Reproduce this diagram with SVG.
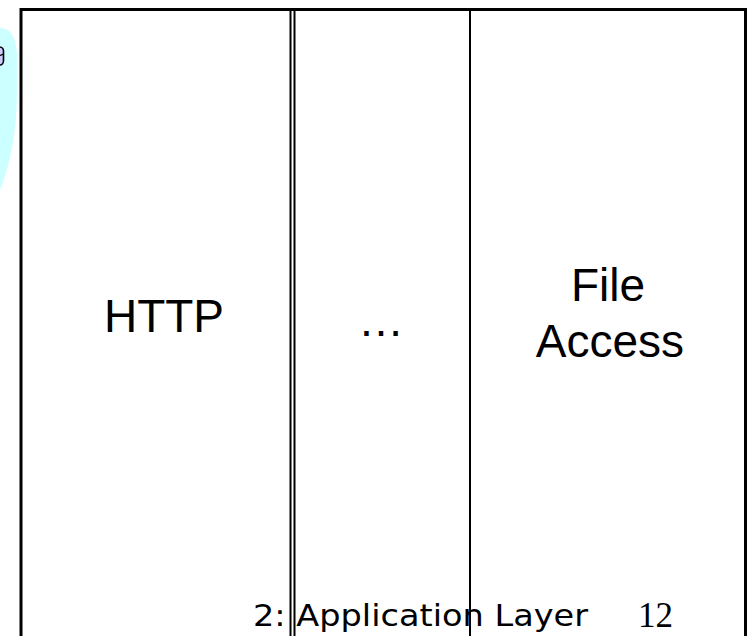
<svg xmlns="http://www.w3.org/2000/svg" width="755" height="636" viewBox="0 0 755 636">
<style>
.lbl{font-family:"Liberation Sans",Arial,sans-serif;font-size:46px;fill:#000;text-anchor:middle}
.sep{stroke:#000;stroke-width:2;fill:none}
.frame{stroke:#000;stroke-width:3;fill:none}
</style>
<rect width="755" height="636" fill="#fff"/>
<g id="bubble">
<path d="M0,28 Q14,27 17,52 L17,95 Q16,150 0,190 Z" fill="#ccffff"/>
<rect x="-6" y="47" width="9.5" height="18" rx="4" fill="#ccccff" stroke="#000" stroke-width="1.6"/>
<path d="M-6,54 Q-1,57 3.5,54" fill="none" stroke="#000" stroke-width="1.2"/>
</g>
<g id="frame">
<path class="frame" d="M21,660 L21,9.5 L745.5,9.5 L745.5,660"/>
</g>
<g id="separators">
<line class="sep" x1="290.5" y1="9" x2="290.5" y2="636"/>
<line class="sep" x1="294.5" y1="9" x2="294.5" y2="636"/>
<line class="sep" x1="470" y1="9" x2="470" y2="636"/>
</g>
<g id="http">
<text class="lbl" x="164" y="332" font-size="47">HTTP</text>
</g>
<g id="ellipsis">
<text class="lbl" x="381" y="336">…</text>
</g>
<g id="file-access">
<text class="lbl" x="608" y="301">File</text>
<text class="lbl" x="610" y="357">Access</text>
</g>
<g id="footer">
<text x="253" y="626" font-family="'Comic Sans MS','DejaVu Sans',sans-serif" font-size="31" textLength="335" lengthAdjust="spacingAndGlyphs">2: Application Layer</text>
<text x="638" y="627" font-family="'Liberation Serif','Times New Roman',serif" font-size="35">12</text>
</g>
</svg>
